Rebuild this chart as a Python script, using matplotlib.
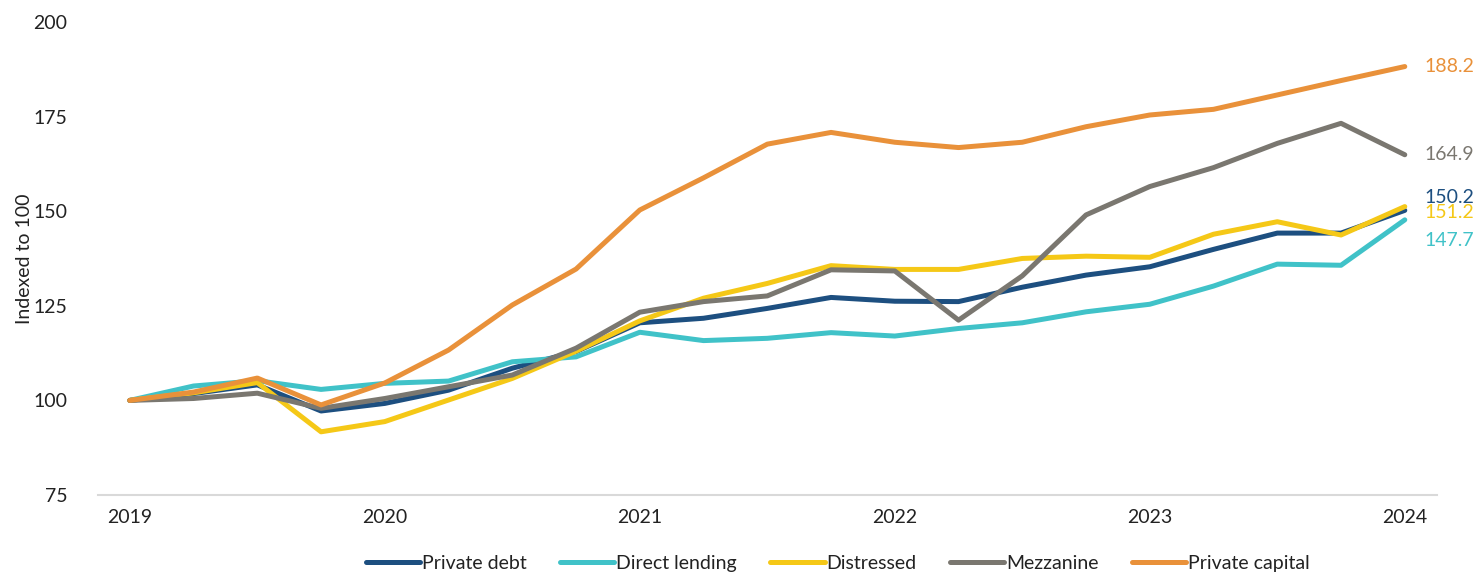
import numpy as np
import matplotlib
matplotlib.use("Agg")
import matplotlib.pyplot as plt

# quarterly index values, 2019 Q1 .. 2024 Q1
years = [2019, 2020, 2021, 2022, 2023, 2024]

private_debt = [100, 101.8, 104.1, 97.2, 99.2, 102.7, 108.5, 112.9, 120.5, 121.7, 124.3,
                127.2, 126.2, 126.1, 129.9, 133.1, 135.3, 139.9, 144.2, 144.2, 150.2]
direct_lending = [100, 103.8, 105.2, 102.9, 104.5, 105.1, 110.2, 111.5, 118.0, 115.8, 116.4,
                  117.9, 117.0, 119.0, 120.5, 123.4, 125.4, 130.2, 136.0, 135.7, 147.7]
distressed = [100, 102.0, 104.7, 91.7, 94.4, 100.1, 105.8, 113.0, 121.0, 127.0, 130.9,
              135.6, 134.6, 134.6, 137.5, 138.1, 137.8, 143.9, 147.2, 143.7, 151.2]
mezzanine = [100, 100.5, 101.9, 97.9, 100.5, 103.6, 106.7, 113.8, 123.3, 126.1, 127.6,
             134.5, 134.2, 121.2, 132.9, 149.0, 156.5, 161.5, 167.9, 173.2, 164.9]
private_capital = [100, 102.2, 105.9, 98.8, 104.6, 113.3, 125.2, 134.7, 150.3, 158.8, 167.7,
                   170.8, 168.2, 166.8, 168.2, 172.3, 175.4, 176.9, 180.7, 184.5, 188.2]

names = ["Private debt", "Direct lending", "Distressed", "Mezzanine", "Private capital"]
series = [private_debt, direct_lending, distressed, mezzanine, private_capital]
colors = ["#1d4f80", "#40c2c8", "#f5c817", "#7a7770", "#e9913a"]
# vertical nudge of the end labels (points) so they do not collide
label_dy = [9.5, -15, -4.5, 0, 0]

plt.rcParams["font.family"] = ["Lato", "DejaVu Sans"]

fig = plt.figure(figsize=(14.75, 5.76), dpi=100)
ax = fig.add_axes([0.0664, 0.1406, 0.9076, 0.8214])

x = np.arange(len(private_debt))
for name, vals, c in zip(names, series, colors):
    ax.plot(x, vals, color=c, lw=3.6, label=name, solid_capstyle="round", solid_joinstyle="round")

# end-of-line value labels
order = [4, 3, 0, 2, 1]
for i in order:
    ax.annotate(f"{series[i][-1]:.1f}", xy=(x[-1], series[i][-1]),
                xytext=(14, label_dy[i]), textcoords="offset points",
                color=colors[i], fontsize=14, va="center", ha="left",
                annotation_clip=False)

ax.set_xlim(-0.5, len(x) - 0.5)
ax.set_ylim(75, 200)
ax.set_yticks([75, 100, 125, 150, 175, 200])
ax.set_xticks(np.arange(0, len(x), 4))
ax.set_xticklabels([str(y) for y in years])

for s in ["top", "right", "left"]:
    ax.spines[s].set_visible(False)
ax.spines["bottom"].set_color("#d9d9d9")
ax.spines["bottom"].set_linewidth(1.5)
ax.tick_params(axis="both", length=0, labelsize=14, colors="#222222")
ax.tick_params(axis="y", pad=22)
ax.tick_params(axis="x", pad=10)

ax.set_ylabel("Indexed to 100", fontsize=14, color="#222222", labelpad=0)

leg = fig.legend(loc="center", bbox_to_anchor=(0.568, 0.022), ncol=5, frameon=False,
                 fontsize=14, handlelength=2.8, handletextpad=0.1, columnspacing=1.7)
for t in leg.get_texts():
    t.set_color("#222222")

fig.savefig("out.png", dpi=100)
